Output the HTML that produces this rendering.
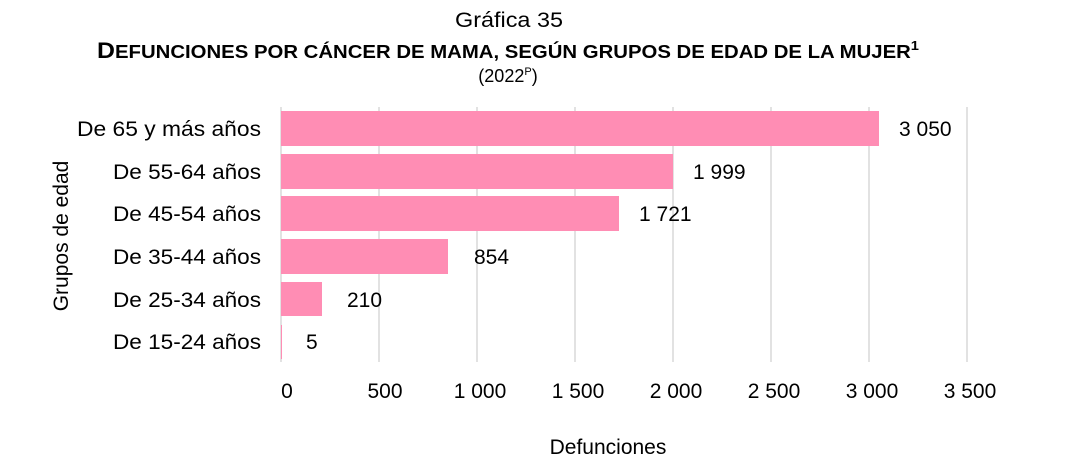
<!DOCTYPE html>
<html><head><meta charset="utf-8"><style>
body{margin:0;background:#fff;}
svg{display:block;font-family:"Liberation Sans",Arial,sans-serif;}
</style></head><body>
<svg width="1077" height="457" viewBox="0 0 1077 457">
<text x="509" y="27" font-size="21" text-anchor="middle" fill="#000" textLength="108" lengthAdjust="spacingAndGlyphs">Gráfica 35</text>
<text x="97" y="58" font-size="22" font-weight="bold" fill="#000" textLength="822" lengthAdjust="spacingAndGlyphs">D<tspan font-size="18">EFUNCIONES POR CÁNCER DE MAMA, SEGÚN GRUPOS DE EDAD DE LA MUJER</tspan><tspan font-size="13" dy="-8">1</tspan></text>
<text x="508" y="82" font-size="18" text-anchor="middle" fill="#000">(2022<tspan font-size="11" dy="-7">P</tspan><tspan dy="7">)</tspan></text>
<g stroke="#d9d9d9" stroke-width="1.5">
<line x1="281" y1="107" x2="281" y2="362"/>
<line x1="379" y1="107" x2="379" y2="362"/>
<line x1="477" y1="107" x2="477" y2="362"/>
<line x1="575" y1="107" x2="575" y2="362"/>
<line x1="673" y1="107" x2="673" y2="362"/>
<line x1="771" y1="107" x2="771" y2="362"/>
<line x1="869" y1="107" x2="869" y2="362"/>
<line x1="967" y1="107" x2="967" y2="362"/>
</g>
<g fill="#ff8db4">
<rect x="281" y="111" width="598" height="35"/>
<rect x="281" y="154" width="392" height="35"/>
<rect x="281" y="196" width="338" height="35"/>
<rect x="281" y="239" width="167" height="35"/>
<rect x="281" y="282" width="41" height="34"/>
<rect x="281" y="325" width="1" height="34"/>
</g>
<g font-size="21" fill="#000">
<g text-anchor="end">
<text x="261" y="136" textLength="184" lengthAdjust="spacingAndGlyphs">De 65 y más años</text>
<text x="261" y="179" textLength="148" lengthAdjust="spacingAndGlyphs">De 55-64 años</text>
<text x="261" y="221" textLength="148" lengthAdjust="spacingAndGlyphs">De 45-54 años</text>
<text x="261" y="264" textLength="148" lengthAdjust="spacingAndGlyphs">De 35-44 años</text>
<text x="261" y="307" textLength="148" lengthAdjust="spacingAndGlyphs">De 25-34 años</text>
<text x="261" y="349" textLength="148" lengthAdjust="spacingAndGlyphs">De 15-24 años</text>
</g>
<text x="899" y="136">3 050</text>
<text x="693" y="179">1 999</text>
<text x="639" y="221">1 721</text>
<text x="474" y="264">854</text>
<text x="347" y="307">210</text>
<text x="306" y="349">5</text>
<g text-anchor="middle">
<text x="287" y="398">0</text>
<text x="385" y="398">500</text>
<text x="480" y="398">1 000</text>
<text x="578" y="398">1 500</text>
<text x="676" y="398">2 000</text>
<text x="774" y="398">2 500</text>
<text x="872" y="398">3 000</text>
<text x="970" y="398">3 500</text>
</g>
<text x="608" y="454" text-anchor="middle">Defunciones</text>
<text transform="translate(68,236) rotate(-90)" text-anchor="middle">Grupos de edad</text>
</g>
</svg>
</body></html>
